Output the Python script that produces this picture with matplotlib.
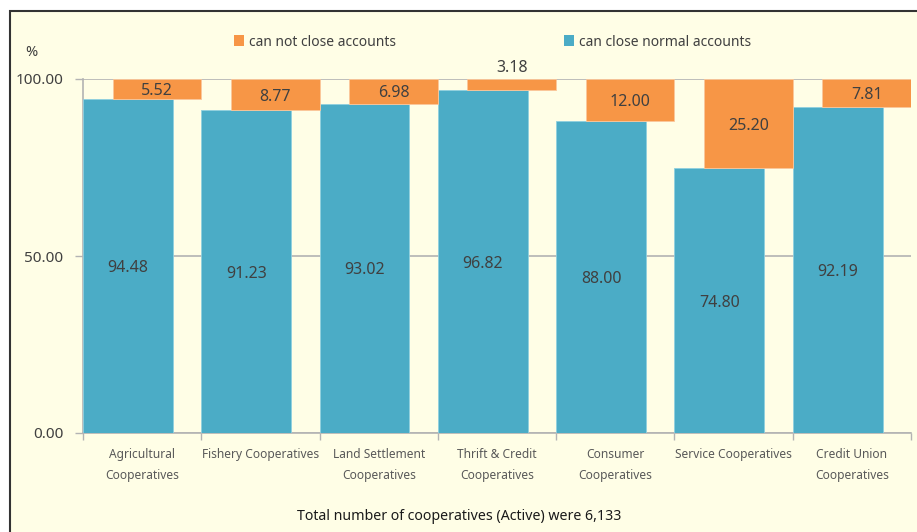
import matplotlib
matplotlib.use("Agg")
import matplotlib.pyplot as plt
import matplotlib.patches as patches
import numpy as np

# data
categories = ["Agricultural\nCooperatives", "Fishery Cooperatives", "Land Settlement\nCooperatives",
              "Thrift & Credit\nCooperatives", "Consumer\nCooperatives", "Service Cooperatives",
              "Credit Union\nCooperatives"]
can_close = [94.48, 91.23, 93.02, 96.82, 88.00, 74.80, 92.19]
cannot_close = [5.52, 8.77, 6.98, 3.18, 12.00, 25.20, 7.81]
yticks = [0, 50, 100]

BLUE = '#4BACC6'
ORANGE = '#F79646'
BG = '#FFFEE6'
TXT = '#404040'
GRID = '#B3B3B3'

plt.rcParams['font.family'] = ['Noto Sans', 'DejaVu Sans']

W, H = 917, 532
fig = plt.figure(figsize=(W / 100, H / 100), dpi=100, facecolor='white')

# outer frame (cream panel, runs off right/bottom edge)
frame = patches.Rectangle((10 / W, -0.1), 1.0, 1.1 - 11 / H, transform=fig.transFigure,
                          facecolor=BG, edgecolor='#333333', linewidth=1.5, zorder=-5)
fig.patches.append(frame)

ax = fig.add_axes([83 / W, 1 - 433 / H, (911 - 83) / W, (433 - 79) / H])
ax.set_facecolor('none')
n = len(categories)
x = np.arange(n)

ax.bar(x, can_close, width=0.76, align='edge', color=BLUE, edgecolor='#8FD0DF', linewidth=0.6, zorder=3)
ax.bar(x + 0.25, cannot_close, width=0.75, bottom=can_close, align='edge', color=ORANGE,
       edgecolor='#FBC79B', linewidth=0.6, zorder=3)

for i in range(n):
    ax.text(x[i] + 0.38, can_close[i] / 2, f"{can_close[i]:.2f}", ha='center', va='center_baseline',
            fontsize=11.5, color=TXT, zorder=5)
    if cannot_close[i] < 4:
        ax.text(x[i] + 0.625, 100 + 0.8, f"{cannot_close[i]:.2f}", ha='center', va='bottom',
                fontsize=11.5, color=TXT, zorder=5)
    else:
        ax.text(x[i] + 0.625, can_close[i] + cannot_close[i] / 2, f"{cannot_close[i]:.2f}",
                ha='center', va='center_baseline', fontsize=11.5, color=TXT, zorder=5)

ax.set_xlim(0, n)
ax.set_ylim(0, 100)
ax.set_yticks(yticks)
ax.set_yticklabels([f"{v:.2f}" for v in yticks], fontsize=11, color=TXT)
ax.set_xticks(np.arange(n + 1))
ax.set_xticklabels([])
ax.set_xticks(x + 0.5, minor=True)
ax.set_xticklabels(categories, minor=True, fontsize=8.6, color='#595959', linespacing=1.75)
ax.tick_params(axis='x', which='minor', length=0, pad=11)
ax.tick_params(axis='x', which='major', length=5, color=GRID, width=1)
ax.tick_params(axis='y', length=6, color=GRID, width=1, pad=8)
ax.yaxis.grid(True, color=GRID, linewidth=1.2, zorder=1)
ax.set_axisbelow(True)
for s in ['top', 'right']:
    ax.spines[s].set_visible(False)
for s in ['left', 'bottom']:
    ax.spines[s].set_color(GRID)
    ax.spines[s].set_linewidth(1.2)

# % label and legend
fig.text(31 / W, 1 - 52 / H, '%', ha='center', va='center', fontsize=10.5, color=TXT)
fig.patches.append(patches.Rectangle((234 / W, 1 - 46 / H), 10 / W, 11 / H,
                                     transform=fig.transFigure, facecolor=ORANGE, edgecolor='none'))
fig.text(249 / W, 1 - 42 / H, 'can not close accounts', ha='left', va='center', fontsize=10, color=TXT)
fig.patches.append(patches.Rectangle((564 / W, 1 - 46 / H), 10 / W, 11 / H,
                                     transform=fig.transFigure, facecolor=BLUE, edgecolor='none'))
fig.text(579 / W, 1 - 42 / H, 'can close normal accounts', ha='left', va='center', fontsize=10, color=TXT)

fig.text(459 / W, 1 - 517 / H, 'Total number of cooperatives (Active) were 6,133', ha='center', va='center',
         fontsize=10.2, color='#1A1A1A')

fig.savefig('out.png', dpi=100, facecolor='white')
